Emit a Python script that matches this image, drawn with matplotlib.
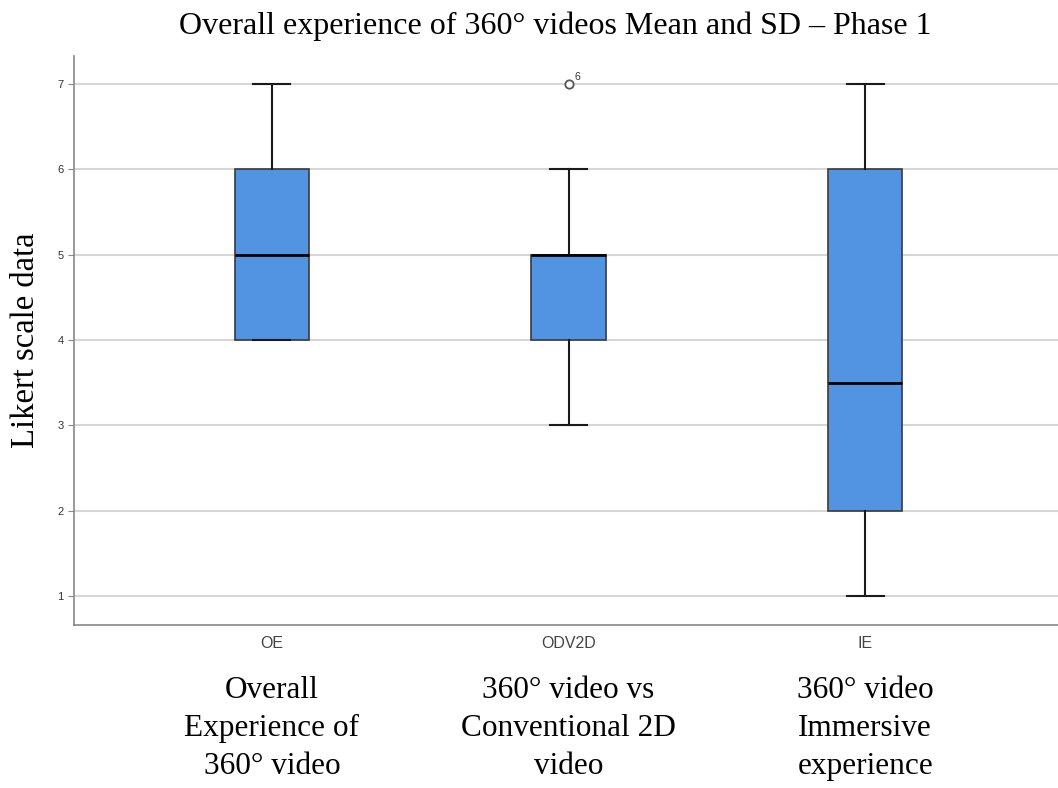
import matplotlib.pyplot as plt

# box summaries per item (Likert 1-7)
labels = ['OE', 'ODV2D', 'IE']
descriptions = ['Overall\nExperience of\n360° video',
                '360° video vs\nConventional 2D\nvideo',
                '360° video\nImmersive\nexperience']
whislo = [4, 3, 1]
q1 = [4, 4, 2]
med = [5, 5, 3.5]
q3 = [6, 5, 6]
whishi = [7, 6, 7]
fliers = [[], [7], []]
flier_ids = [[], ['6'], []]

stats = []
for i in range(len(labels)):
    stats.append(dict(label=labels[i], whislo=whislo[i], q1=q1[i], med=med[i],
                      q3=q3[i], whishi=whishi[i], fliers=fliers[i]))

fig = plt.figure(figsize=(10.58, 7.88), dpi=100)
ax = fig.add_axes([0.070, 0.207, 0.930, 0.722])

pos = [1, 2, 3]
ax.bxp(stats, positions=pos, widths=0.25, patch_artist=True,
       boxprops=dict(facecolor='#5294e2', edgecolor='#3a3a3a', linewidth=1.2),
       medianprops=dict(color='black', linewidth=2),
       whiskerprops=dict(color='#1a1a1a', linewidth=1.5),
       capprops=dict(color='#1a1a1a', linewidth=1.5),
       capwidths=0.125,
       flierprops=dict(marker='o', markersize=6, markerfacecolor='white',
                       markeredgecolor='#555555', markeredgewidth=1.3),
       zorder=3)

for i in range(len(labels)):
    for v, name in zip(fliers[i], flier_ids[i]):
        ax.annotate(name, (pos[i], v), xytext=(4, 3), textcoords='offset points',
                    fontsize=7.5, color='#333333', family='Liberation Sans')

ax.set_xlim(0.333, 3.65)
ax.set_ylim(0.66, 7.33)
ax.set_yticks([1, 2, 3, 4, 5, 6, 7])
ax.yaxis.grid(True, color='#d6d6d6', linewidth=1.5, zorder=0)
ax.set_axisbelow(True)
for s in ['top', 'right']:
    ax.spines[s].set_visible(False)
for s in ['left', 'bottom']:
    ax.spines[s].set_color('#888888')
    ax.spines[s].set_linewidth(1.2)
ax.tick_params(axis='y', length=4, color='#888888', labelsize=8, labelcolor='#333333')
ax.tick_params(axis='x', length=0, labelsize=11.5, labelcolor='#444444', pad=8)
for t in ax.get_yticklabels():
    t.set_family('Liberation Sans')
ax.set_xticks(pos)
ax.set_xticklabels(labels, family='Liberation Sans')

ax.set_ylabel('Likert scale data', family='Liberation Serif', fontsize=23.5, labelpad=12)
fig.suptitle('Overall experience of 360° videos Mean and SD – Phase 1',
             family='Liberation Serif', fontsize=23, x=0.525, y=0.986)

for p, d in zip(pos, descriptions):
    ax.annotate(d, (p, 788 - 676), xycoords=('data', 'figure pixels'),
                ha='center', va='top',
                family='Liberation Serif', fontsize=22.5, linespacing=1.4)

fig.savefig('out.png', dpi=100)
